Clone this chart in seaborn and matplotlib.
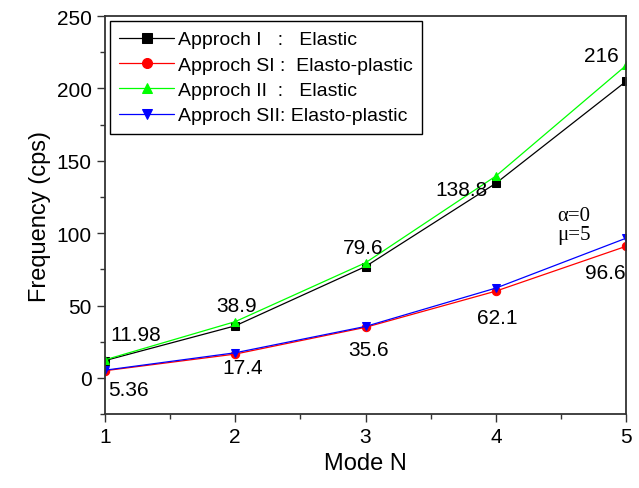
import pandas as pd
import matplotlib.pyplot as plt
import seaborn as sns
from matplotlib.ticker import MultipleLocator

# valori
modes = [1, 2, 3, 4, 5]
app_i = [11.98, 36.0, 77.0, 134.5, 205.0]
app_si = [5.0, 16.5, 35.0, 60.0, 91.0]
app_ii = [12.5, 38.9, 79.6, 139.5, 216.0]
app_sii = [5.36, 17.4, 35.6, 62.1, 96.6]

labels = ["Approch I   :   Elastic", "Approch SI :  Elasto-plastic",
          "Approch II  :   Elastic", "Approch SII: Elasto-plastic"]
colors = ["black", "red", "#00ff00", "blue"]
markers = ["s", "o", "^", "v"]

ann_text = ["11.98", "5.36", "38.9", "17.4", "79.6", "35.6", "138.8", "62.1", "216", "96.6"]
ann_x = [1.24, 1.18, 2.01, 2.06, 2.98, 3.02, 3.74, 4.01, 4.81, 4.84]
ann_y = [30, -8, 50, 7, 90, 19.5, 130.5, 42, 223, 73]

sns.set_style("ticks")
plt.rcParams["font.family"] = ["Liberation Sans", "DejaVu Sans"]
plt.rcParams["text.color"] = "black"
plt.rcParams["axes.labelcolor"] = "black"
plt.rcParams["xtick.color"] = "black"
plt.rcParams["ytick.color"] = "black"

fig = plt.figure(figsize=(6.39, 4.89), dpi=100)
ax = fig.add_axes([0.164, 0.151, 0.816, 0.814])

series = [app_i, app_si, app_ii, app_sii]
for vals, lab, c, m in zip(series, labels, colors, markers):
    df = pd.DataFrame({"mode": modes, "freq": vals})
    sns.lineplot(data=df, x="mode", y="freq", ax=ax, color=c, marker=m,
                 markersize=6, markeredgecolor=c, linewidth=0.9, label=lab)

for t, xx, yy in zip(ann_text, ann_x, ann_y):
    ax.text(xx, yy, t, fontsize=15, ha="center", va="center", color="black")

ax.text(4.47, 112, "α=0", fontsize=15, family=["Liberation Serif", "DejaVu Serif"], va="center")
ax.text(4.47, 99, "μ=5", fontsize=15, family=["Liberation Serif", "DejaVu Serif"], va="center")

ax.set_xlim(1, 5)
ax.set_ylim(-25, 250)
ax.xaxis.set_major_locator(MultipleLocator(1))
ax.xaxis.set_minor_locator(MultipleLocator(0.5))
ax.yaxis.set_major_locator(MultipleLocator(50))
ax.yaxis.set_minor_locator(MultipleLocator(25))
ax.tick_params(which="major", direction="out", length=6, width=1, labelsize=15, color="#333333")
ax.tick_params(which="minor", direction="out", length=3.5, width=1, color="#333333")
for s in ax.spines.values():
    s.set_visible(True)
    s.set_color("#333333")
    s.set_linewidth(1.3)

ax.set_xlabel("Mode N", fontsize=17)
ax.set_ylabel("Frequency (cps)", fontsize=17)

leg = ax.legend(loc="upper left", fontsize=14, frameon=True, fancybox=False,
                borderaxespad=0.25, handlelength=2.8, labelspacing=0.4,
                handletextpad=0.2, borderpad=0.5, markerscale=1.2)
leg.get_frame().set_edgecolor("black")
leg.get_frame().set_linewidth(1.0)
leg.get_frame().set_alpha(1)

plt.savefig("out.png", dpi=100)
plt.close()
